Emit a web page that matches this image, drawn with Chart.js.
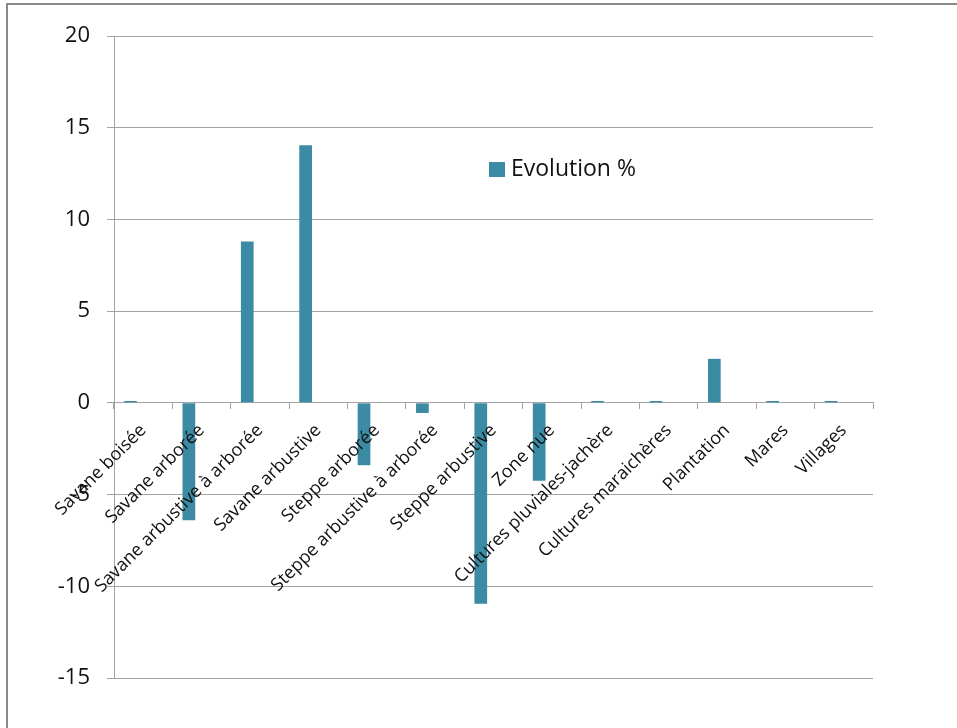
<!DOCTYPE html>
<html>
<head>
<meta charset="utf-8">
<script src="https://cdn.jsdelivr.net/npm/chart.js@4.4.0/dist/chart.umd.min.js"></script>
<style>
  body { margin: 0; background: #fff; overflow: hidden; }
  #wrap { position: relative; width: 957px; height: 728px; }
  #frame { position: absolute; left: 6px; top: 3px; width: 1000px; height: 800px;
           border-left: 2px solid #8a8a8a; border-top: 2px solid #8a8a8a; }
  #legend { position: absolute; left: 489px; top: 151px; font-family: "Open Sans", sans-serif;
            font-size: 23px; color: #111; white-space: nowrap; }
  #legend span.box { display: inline-block; width: 16px; height: 15px; margin-right: 6px;
                     vertical-align: -1px; }
</style>
</head>
<body>
<div id="wrap">
  <div id="frame"></div>
  <canvas id="evolutionChart" width="957" height="728"></canvas>
  <div id="legend"></div>
</div>
<script>
// categories and values
const categories = ['Savane boisée', 'Savane arborée', 'Savane arbustive à arborée', 'Savane arbustive',
    'Steppe arborée', 'Steppe arbustive à arborée', 'Steppe arbustive', 'Zone nue',
    'Cultures pluviales-jachère', 'Cultures maraichères', 'Plantation', 'Mares', 'Villages'];
const evolution = [0.1, -6.4, 8.8, 14.05, -3.4, -0.55, -10.95, -4.25, 0.1, 0.1, 2.4, 0.1, 0.1];
const seriesLabel = 'Evolution %';
const yTicks = [-15, -10, -5, 0, 5, 10, 15, 20];

const barColor = '#3a8ba3';
const gridColor = '#a3a3a3';

const ctx = document.getElementById('evolutionChart').getContext('2d');
const chart = new Chart(ctx, {
    type: 'bar',
    data: {
        labels: categories,
        datasets: [
            { label: seriesLabel, data: evolution, backgroundColor: barColor, borderWidth: 0 },
            // two empty series, the bar sits in the first slot as in the original
            { label: '', data: [] },
            { label: '', data: [] }
        ]
    },
    options: {
        responsive: false,
        animation: false,
        datasets: { bar: { categoryPercentage: 0.653, barPercentage: 1 } },
        layout: { padding: { left: 0, top: 36, right: 84, bottom: 50 } },
        scales: {
            x: {
                position: { y: 0 },
                grid: { drawOnChartArea: false, color: gridColor, tickLength: 6 },
                border: { color: gridColor },
                ticks: {
                    z: 1, // labels over the bars
                    autoSkip: false, minRotation: 45, maxRotation: 45,
                    color: '#111', padding: 11,
                    font: { family: 'Open Sans', size: 18 }
                }
            },
            y: {
                min: yTicks[0],
                max: yTicks[yTicks.length - 1],
                afterBuildTicks: (scale) => { scale.ticks = yTicks.map(v => ({ value: v })); },
                afterFit: (scale) => { scale.width = 114; },
                grid: { color: gridColor, tickLength: 7 },
                border: { color: gridColor },
                ticks: {
                    color: '#111', padding: 17,
                    font: { family: 'Open Sans', size: 22 }
                }
            }
        },
        plugins: {
            legend: { display: false },
            tooltip: { enabled: false }
        }
    }
});

// legend placed inside the plot, as in the original
document.getElementById('legend').innerHTML =
    '<span class="box" style="background:' + barColor + '"></span>' + seriesLabel;
</script>
</body>
</html>
